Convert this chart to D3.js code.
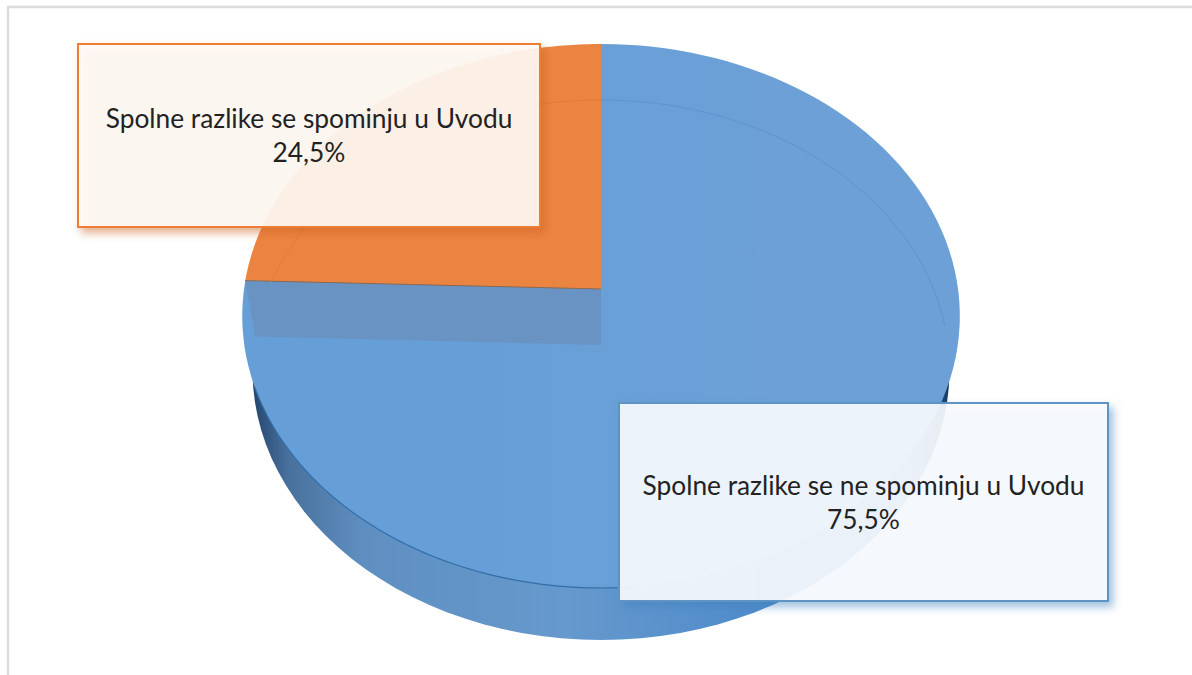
<!DOCTYPE html>
<html lang="en">

<head>
    <meta charset="UTF-8">
    <title>Spolne razlike</title>
    <script src="https://d3js.org/d3.v7.min.js"></script>
    <style>
        body,
        html {
            margin: 0px;
            background: white;
        }

        svg {
            display: block;
        }

        text {
            font-family: Lato, "Open Sans", sans-serif;
            fill: #222;
            text-anchor: middle;
        }
    </style>
</head>

<body>
    <div id="chart"></div>

    <script>
        const categories = ['Spolne razlike se ne spominju u Uvodu', 'Spolne razlike se spominju u Uvodu']
        const values = [75.5, 24.5]
        const valueLabels = ['75,5%', '24,5%']

        const width = 1192
        const height = 675

        const svg = d3.select('#chart')
            .append('svg')
            .attr('width', width)
            .attr('height', height)

        // frame of the pasted picture, only top and left are visible
        svg.append('path')
            .attr('d', 'M8,675V7H1192')
            .attr('fill', 'none')
            .attr('stroke', '#dcdcdc')
            .attr('stroke-width', 2.5)

        const defs = svg.append('defs')

        const rimGrad = defs.append('linearGradient').attr('id', 'rim')
        rimGrad.append('stop').attr('offset', '0%').attr('stop-color', '#24466e')
        rimGrad.append('stop').attr('offset', '5%').attr('stop-color', '#48709c')
        rimGrad.append('stop').attr('offset', '16%').attr('stop-color', '#5f8fc1')
        rimGrad.append('stop').attr('offset', '45%').attr('stop-color', '#6699cd')
        rimGrad.append('stop').attr('offset', '75%').attr('stop-color', '#4d8aca')
        rimGrad.append('stop').attr('offset', '95%').attr('stop-color', '#3f79b6')
        rimGrad.append('stop').attr('offset', '100%').attr('stop-color', '#16365f')

        const addShadow = (id, color) => {
            const f = defs.append('filter').attr('id', id)
                .attr('x', '-5%').attr('y', '-5%').attr('width', '110%').attr('height', '115%')
            f.append('feDropShadow')
                .attr('dx', 4).attr('dy', 5).attr('stdDeviation', 4)
                .attr('flood-color', color).attr('flood-opacity', 0.55)
        }
        addShadow('shadowOrange', '#c9611c')
        addShadow('shadowBlue', '#3f7fbd')

        // tilted disc: unit circle pushed through a perspective division
        const topFace = { x: 601, y: 289, a: 269.3, b: 357, k: 0.0993 }
        const bottomFace = { x: 601, y: 345, a: 267.7, b: 347, k: 0.0926 }

        const project = (face, angle, r = 1) => {
            const u = r * Math.sin(angle)
            const v = r * Math.cos(angle)
            const w = 1 + face.k * v
            return [face.x + face.b * u / w, face.y - face.a * v / w]
        }

        const line = d3.line()
        const arcPoints = (face, start, end) =>
            d3.range(0, 121).map(i => project(face, start + (end - start) * i / 120))

        const pie = d3.pie().sort(null).value(d => d)
        const slices = pie(values)
        const blue = slices[0]
        const orange = slices[1]

        // side wall, bottom disc drawn first and covered by the top face
        svg.append('path')
            .attr('d', line(arcPoints(bottomFace, 0, 2 * Math.PI)) + 'Z')
            .attr('fill', 'url(#rim)')

        const sliceColors = ['#669fd7', '#ec8441']

        svg.selectAll('.slice')
            .data(slices)
            .enter()
            .append('path')
            .attr('class', 'slice')
            .attr('d', d => line([project(topFace, 0, 0), ...arcPoints(topFace, d.startAngle, d.endAngle)]) + 'Z')
            .attr('fill', (d, i) => sliceColors[i])

        // lighter part of the blue face on the right
        const sheenGrad = defs.append('linearGradient').attr('id', 'sheen')
        sheenGrad.append('stop').attr('offset', '35%').attr('stop-color', '#7aa3d6').attr('stop-opacity', 0)
        sheenGrad.append('stop').attr('offset', '75%').attr('stop-color', '#7aa3d6').attr('stop-opacity', 0.3)
        svg.append('path')
            .attr('d', line([project(topFace, 0, 0), ...arcPoints(topFace, blue.startAngle, blue.endAngle)]) + 'Z')
            .attr('fill', 'url(#sheen)')

        // wall of the orange slice, seen through the transparent blue
        const cornerTop = project(topFace, orange.startAngle)
        const cornerBottom = project(bottomFace, orange.startAngle)
        svg.append('path')
            .attr('d', line([project(topFace, 0, 0), cornerTop, cornerBottom, project(bottomFace, 0, 0)]) + 'Z')
            .attr('fill', '#6a90bf')
            .attr('fill-opacity', 0.85)

        // edge between orange face and the wall
        svg.append('path')
            .attr('d', line([cornerTop, project(topFace, 0, 0)]))
            .attr('fill', 'none')
            .attr('stroke', '#8c6a50')
            .attr('stroke-width', 1)

        // dim edge of the bottom disc showing through the top face
        svg.append('path')
            .attr('d', line(arcPoints(bottomFace, 0, 1.5)))
            .attr('fill', 'none')
            .attr('stroke', '#5c94cc')
            .attr('stroke-width', 1)
        svg.append('path')
            .attr('d', line(arcPoints(bottomFace, orange.startAngle + 0.21, 2 * Math.PI)))
            .attr('fill', 'none')
            .attr('stroke', '#e07c3b')
            .attr('stroke-width', 1)

        // dark front edge of the top face
        svg.append('path')
            .attr('d', line(arcPoints(topFace, 2.3, 4.35)))
            .attr('fill', 'none')
            .attr('stroke', '#336ea8')
            .attr('stroke-width', 1.2)

        // data label boxes
        const labelBoxes = [
            { x: 619, y: 403, w: 489, h: 198, stroke: '#5e93c4', tint: '#fafdff', shadow: 'shadowBlue', textY: 495 },
            { x: 78, y: 44, w: 462, h: 183, stroke: '#ed7d31', tint: '#fffaf6', shadow: 'shadowOrange', textY: 128 }
        ]

        const labels = svg.selectAll('.label')
            .data(labelBoxes)
            .enter()
            .append('g')
            .attr('class', 'label')

        labels.append('rect')
            .attr('x', d => d.x)
            .attr('y', d => d.y)
            .attr('width', d => d.w)
            .attr('height', d => d.h)
            .attr('fill', d => d.tint)
            .attr('fill-opacity', 0.89)
            .attr('stroke', d => d.stroke)
            .attr('stroke-width', 2)
            .style('filter', d => `url(#${d.shadow})`)

        labels.append('text')
            .attr('x', d => d.x + d.w / 2)
            .attr('y', d => d.textY)
            .attr('font-size', 26.3)
            .text((d, i) => categories[i])

        labels.append('text')
            .attr('x', d => d.x + d.w / 2)
            .attr('y', d => d.textY + 34)
            .attr('font-size', 26.3)
            .text((d, i) => valueLabels[i])
    </script>
</body>

</html>
